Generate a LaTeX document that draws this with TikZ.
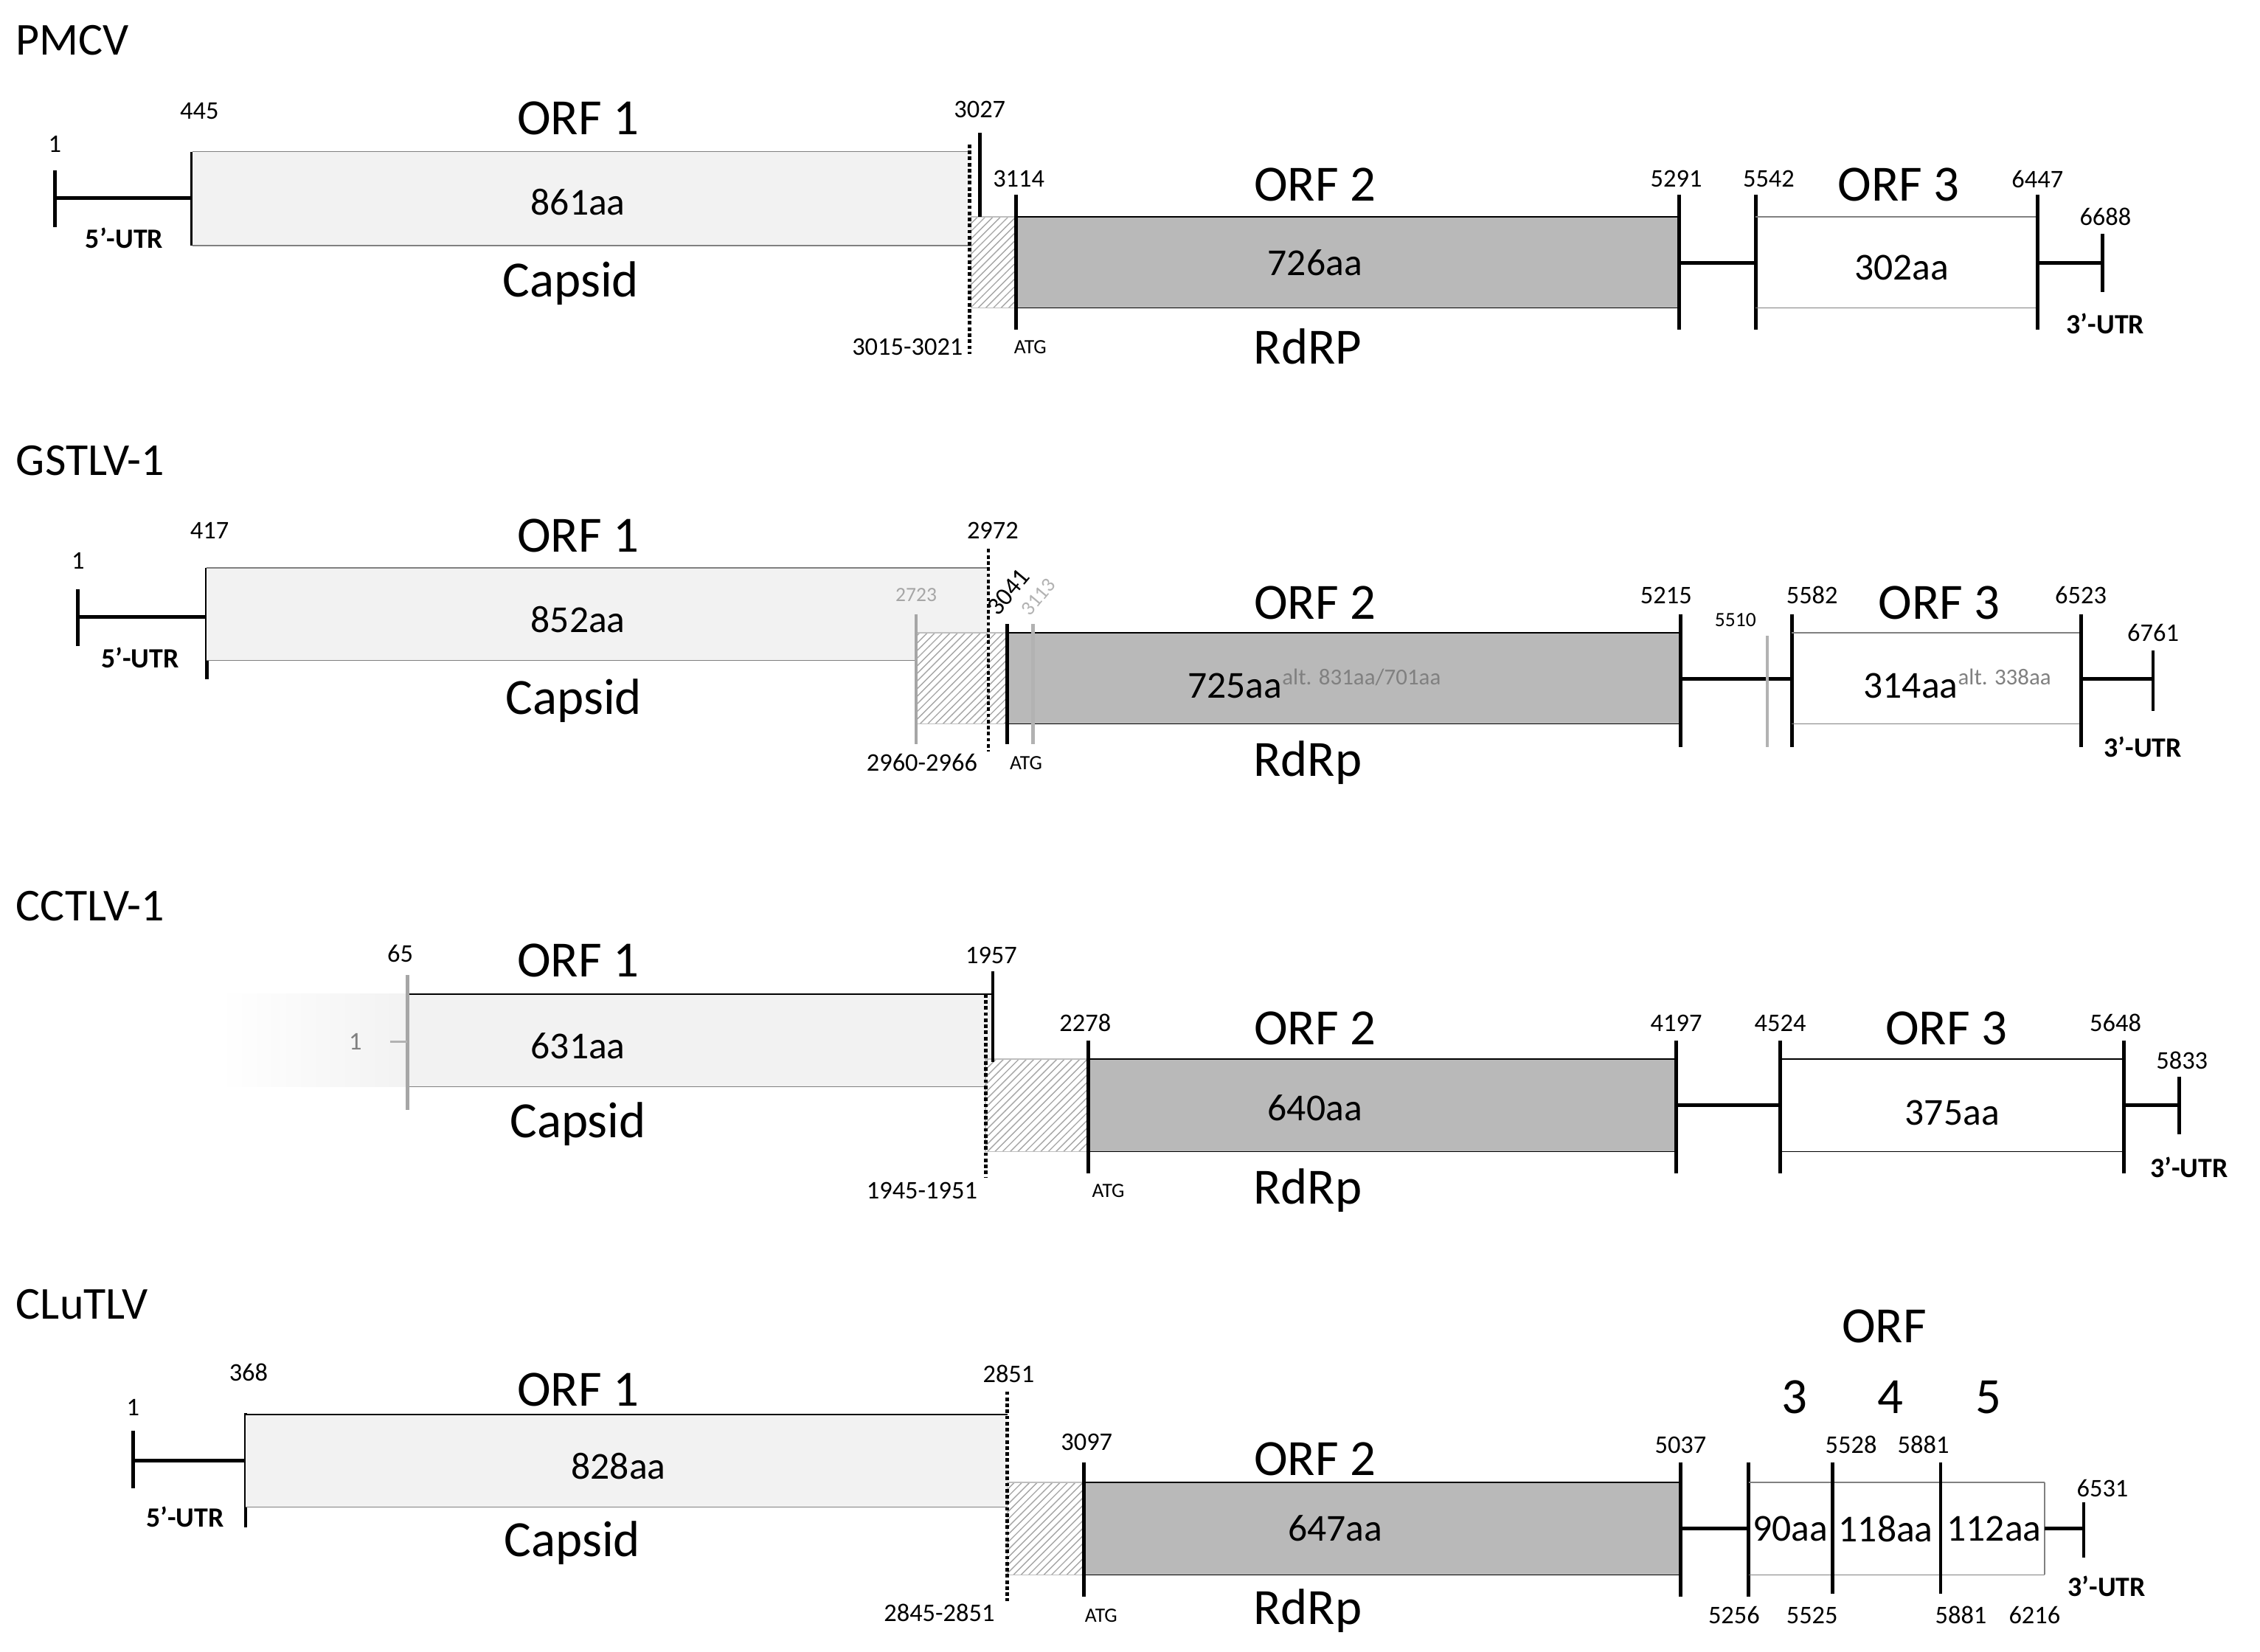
\documentclass[tikz,border=0pt]{standalone}
\usepackage{fontspec}
\setmainfont{Carlito}
\usetikzlibrary{patterns}
\begin{document}
\begin{tikzpicture}[x=0.02cm, y=-0.02cm,
title/.style={anchor=west, font=\fontsize{18}{20}\selectfont},
orf/.style={font=\fontsize{20}{22}\selectfont},
aa/.style={font=\fontsize{15}{17}\selectfont},
num/.style={font=\fontsize{10}{12}\selectfont},
utr/.style={font=\bfseries\fontsize{11}{13}\selectfont},
tick/.style={line width=1.4pt},
capsid/.style={fill=gray!10, draw=none},
rdrp/.style={fill=gray!55, draw=none},
hatch/.style={pattern=north east lines, pattern color=gray!70, draw=gray!50},
dots/.style={line width=1.4pt, densely dotted}]
\useasboundingbox (0,0) rectangle (1564,1143);
% PMCV
\node[title] (t1) at (5,28) {PMCV};
\draw[tick] (38,137) -- (133,137); \draw[tick] (38,118) -- (38,157); \draw[tick] (133,105) -- (133,170);
\fill[capsid] (133,105) rectangle (672,170); \draw[gray] (133,105) -- (672,105) (133,170) -- (672,170);
\fill[hatch] (672,150) rectangle (703,213);
\fill[rdrp] (703,150) rectangle (1162,213); \draw (703,150) -- (1162,150) (703,213) -- (1162,213);
\draw[dots] (671,100) -- (671,245); \draw[tick] (678,92) -- (678,150);
\draw[tick] (703,135) -- (703,228); \draw[tick] (1162,135) -- (1162,228);
\draw[tick] (1162,182) -- (1215,182); \draw[tick] (1215,135) -- (1215,228);
\draw[gray] (1215,150) -- (1410,150) (1215,213) -- (1410,213);
\draw[tick] (1410,135) -- (1410,228); \draw[tick] (1410,182) -- (1455,182); \draw[tick] (1455,162) -- (1455,202);
\node[num] (p1) at (38,100) {1}; \node[num] (p445) at (138,77) {445};
\node[utr] (p5u) at (86,165) {5'-UTR};
\node[orf] (po1) at (400,82) {ORF 1}; \node[aa] (pa1) at (400,140) {861aa}; \node[orf] (pc) at (395,196) {Capsid};
\node[num] (p3027) at (678,76) {3027}; \node[num] (p3114) at (705,124) {3114};
\node[num] (pfs) at (628,240) {3015-3021}; \node[num,font=\fontsize{8}{10}\selectfont] (patg) at (713,240) {ATG};
\node[orf] (po2) at (910,128) {ORF 2}; \node[aa] (pa2) at (910,182) {726aa}; \node[orf] (pr) at (905,240) {RdRP};
\node[num] (p5291) at (1160,124) {5291}; \node[num] (p5542) at (1224,124) {5542};
\node[orf] (po3) at (1314,128) {ORF 3}; \node[aa] (pa3) at (1316,185) {302aa};
\node[num] (p6447) at (1410,124) {6447}; \node[num] (p6688) at (1457,150) {6688};
\node[utr] (p3u) at (1457,224) {3'-UTR};
% GSTLV-1
\node[title] (t2) at (5,319) {GSTLV-1};
\draw[tick] (54,427) -- (143,427); \draw[tick] (54,408) -- (54,447); \draw[tick] (143,393) -- (143,470);
\fill[capsid] (143,393) rectangle (685,438); \fill[capsid] (143,438) rectangle (634,457);
\draw[gray] (143,393) -- (685,393) (143,457) -- (634,457);
\fill[hatch] (634,438) rectangle (697,501);
\fill[rdrp] (697,438) rectangle (1163,501); \draw (697,438) -- (1163,438) (697,501) -- (1163,501);
\draw[gray!70, tick] (634,425) -- (634,515);
\draw[dots] (684,380) -- (684,520); \draw[tick] (697,432) -- (697,515); \draw[gray!60, tick] (715,432) -- (715,515);
\draw[tick] (1163,425) -- (1163,517); \draw[tick] (1163,470) -- (1240,470);
\draw[gray!60, tick] (1223,440) -- (1223,517); \draw[tick] (1240,425) -- (1240,517);
\draw[gray] (1240,438) -- (1440,438) (1240,501) -- (1440,501);
\draw[tick] (1440,425) -- (1440,517); \draw[tick] (1440,470) -- (1490,470); \draw[tick] (1490,450) -- (1490,492);
\node[num] (g1) at (54,388) {1}; \node[num] (g417) at (145,367) {417};
\node[utr] (g5u) at (97,455) {5'-UTR};
\node[orf] (go1) at (400,371) {ORF 1}; \node[aa] (ga1) at (400,429) {852aa}; \node[orf] (gc) at (397,485) {Capsid};
\node[num] (g2972) at (687,367) {2972};
\node[num, gray!70, font=\fontsize{8}{10}\selectfont] (g2723) at (634,412) {2723};
\node[num, rotate=50, anchor=south west, inner sep=1pt] (g3041) at (691,430) {3041};
\node[num, gray!60, rotate=50, anchor=south west, inner sep=1pt, font=\fontsize{8}{10}\selectfont] (g3113) at (713,430) {3113};
\node[num] (gfs) at (638,528) {2960-2966}; \node[num,font=\fontsize{8}{10}\selectfont] (gatg) at (710,528) {ATG};
\node[orf] (go2) at (910,417) {ORF 2}; \node[orf] (gr) at (905,528) {RdRp};
\node[aa] (ga2) at (910,473) {725aa\textsuperscript{\color{gray}\fontsize{9}{10}\selectfont alt. 831aa/701aa}};
\node[num] (g5215) at (1153,412) {5215}; \node[num, font=\fontsize{8}{10}\selectfont] (g5510) at (1201,429) {5510};
\node[num] (g5582) at (1254,412) {5582};
\node[orf] (go3) at (1342,417) {ORF 3};
\node[aa] (ga3) at (1355,473) {314aa\textsuperscript{\color{gray}\fontsize{9}{10}\selectfont alt. 338aa}};
\node[num] (g6523) at (1440,412) {6523}; \node[num] (g6761) at (1490,438) {6761};
\node[utr] (g3u) at (1483,517) {3'-UTR};
% CCTLV-1
\node[title] (t3) at (5,627) {CCTLV-1};
\shade[left color=white, right color=gray!10] (152,688) rectangle (282,752);
\fill[capsid] (282,688) rectangle (687,733); \fill[capsid] (282,733) rectangle (682,752);
\draw (282,688) -- (687,688); \draw[gray] (282,752) -- (682,752);
\draw[gray!70, tick] (282,675) -- (282,768); \draw[gray!60, thick] (270,721) -- (282,721);
\fill[hatch] (682,733) rectangle (753,797);
\fill[rdrp] (753,733) rectangle (1160,797); \draw (753,733) -- (1160,733) (753,797) -- (1160,797);
\draw[tick] (687,672) -- (687,735); \draw[dots] (682,688) -- (682,815);
\draw[tick] (753,720) -- (753,812); \draw[tick] (1160,720) -- (1160,812);
\draw[tick] (1160,765) -- (1232,765); \draw[tick] (1232,720) -- (1232,812);
\draw (1232,733) -- (1470,733) (1232,797) -- (1470,797);
\draw[tick] (1470,720) -- (1470,812); \draw[tick] (1470,765) -- (1508,765); \draw[tick] (1508,745) -- (1508,785);
\node[num] (c65) at (277,660) {65}; \node[num, gray] (c1) at (246,721) {1};
\node[orf] (co1) at (400,665) {ORF 1}; \node[aa] (ca1) at (400,724) {631aa}; \node[orf] (cc) at (400,778) {Capsid};
\node[num] (c1957) at (686,661) {1957}; \node[num] (c2278) at (751,708) {2278};
\node[num] (cfs) at (638,824) {1945-1951}; \node[num,font=\fontsize{8}{10}\selectfont] (catg) at (767,824) {ATG};
\node[orf] (co2) at (910,712) {ORF 2}; \node[aa] (ca2) at (910,767) {640aa}; \node[orf] (cr) at (905,824) {RdRp};
\node[num] (c4197) at (1160,708) {4197}; \node[num] (c4524) at (1232,708) {4524};
\node[orf] (co3) at (1347,712) {ORF 3}; \node[aa] (ca3) at (1351,770) {375aa};
\node[num] (c5648) at (1464,708) {5648}; \node[num] (c5833) at (1510,734) {5833};
\node[utr] (c3u) at (1515,808) {3'-UTR};
% CLuTLV
\node[title] (t4) at (5,903) {CLuTLV};
\draw[tick] (92,1011) -- (170,1011); \draw[tick] (92,990) -- (92,1030); \draw[tick] (170,978) -- (170,1057);
\fill[capsid] (170,979) rectangle (697,1043); \draw (170,979) -- (697,979); \draw[gray] (170,1043) -- (697,1043);
\fill[hatch] (697,1026) rectangle (750,1090);
\fill[rdrp] (750,1026) rectangle (1163,1090); \draw (750,1026) -- (1163,1026) (750,1090) -- (1163,1090);
\draw[dots] (697,963) -- (697,1108);
\draw[tick] (750,1012) -- (750,1105); \draw[tick] (1163,1012) -- (1163,1105);
\draw[tick] (1163,1058) -- (1210,1058); \draw[tick] (1210,1012) -- (1210,1105);
\draw[gray] (1210,1026) -- (1415,1026) (1210,1090) -- (1415,1090);
\draw[tick] (1268,1012) -- (1268,1103); \draw[tick] (1343,1012) -- (1343,1103);
\draw[gray] (1415,1026) -- (1415,1090);
\draw[tick] (1415,1058) -- (1442,1058); \draw[tick] (1442,1040) -- (1442,1078);
\node[num] (l1) at (92,974) {1}; \node[num] (l368) at (172,950) {368};
\node[utr] (l5u) at (128,1050) {5'-UTR};
\node[orf] (lo1) at (400,962) {ORF 1}; \node[aa] (la1) at (428,1015) {828aa}; \node[orf] (lc) at (396,1068) {Capsid};
\node[num] (l2851) at (698,951) {2851}; \node[num] (l3097) at (752,998) {3097};
\node[num] (lfs) at (650,1116) {2845-2851}; \node[num,font=\fontsize{8}{10}\selectfont] (latg) at (762,1118) {ATG};
\node[orf] (lo2) at (910,1010) {ORF 2}; \node[aa] (la2) at (924,1058) {647aa}; \node[orf] (lr) at (905,1115) {RdRp};
\node[num] (l5037) at (1163,1000) {5037}; \node[num] (l5256) at (1200,1118) {5256};
\node[num] (l5528) at (1281,1000) {5528}; \node[num] (l5525) at (1254,1118) {5525};
\node[num] (l5881a) at (1331,1000) {5881}; \node[num] (l5881b) at (1357,1118) {5881};
\node[num] (l6216) at (1408,1118) {6216}; \node[num] (l6531) at (1455,1030) {6531};
\node[utr] (l3u) at (1458,1098) {3'-UTR};
\node[aa] (la3) at (1239,1058) {90aa}; \node[aa] (la4) at (1305,1058) {118aa}; \node[aa] (la5) at (1380,1058) {112aa};
\node[orf] (lorf) at (1304,918) {ORF};
\node[orf] (l3) at (1242,967) {3}; \node[orf] (l4) at (1308,967) {4}; \node[orf] (l5) at (1376,967) {5};
\end{tikzpicture}
\end{document}
